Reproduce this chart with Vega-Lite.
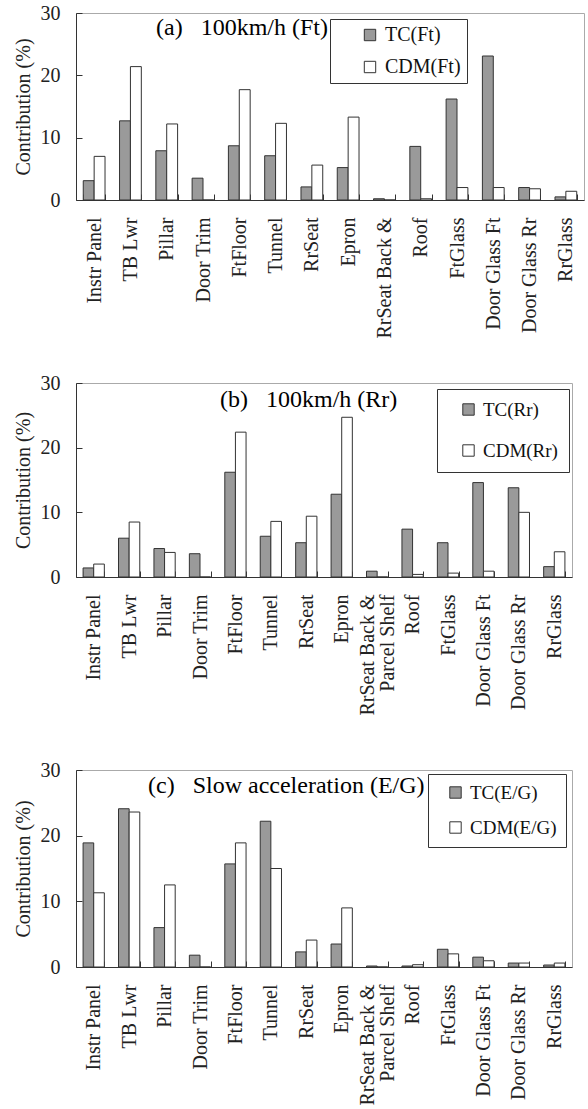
{
  "$schema": "https://vega.github.io/schema/vega-lite/v6.json",
  "padding": {"left": 12, "top": 2, "right": 0, "bottom": 0},
  "background": "white",
  "datasets": {
    "rows": [
      {"p":"a","part":"Instr Panel","s":"TC(Ft)","v":3.1},{"p":"a","part":"Instr Panel","s":"CDM(Ft)","v":7.0},
      {"p":"a","part":"TB Lwr","s":"TC(Ft)","v":12.7},{"p":"a","part":"TB Lwr","s":"CDM(Ft)","v":21.4},
      {"p":"a","part":"Pillar","s":"TC(Ft)","v":7.9},{"p":"a","part":"Pillar","s":"CDM(Ft)","v":12.2},
      {"p":"a","part":"Door Trim","s":"TC(Ft)","v":3.5},{"p":"a","part":"Door Trim","s":"CDM(Ft)","v":0},
      {"p":"a","part":"FtFloor","s":"TC(Ft)","v":8.7},{"p":"a","part":"FtFloor","s":"CDM(Ft)","v":17.7},
      {"p":"a","part":"Tunnel","s":"TC(Ft)","v":7.1},{"p":"a","part":"Tunnel","s":"CDM(Ft)","v":12.3},
      {"p":"a","part":"RrSeat","s":"TC(Ft)","v":2.1},{"p":"a","part":"RrSeat","s":"CDM(Ft)","v":5.6},
      {"p":"a","part":"Epron","s":"TC(Ft)","v":5.2},{"p":"a","part":"Epron","s":"CDM(Ft)","v":13.3},
      {"p":"a","part":"RrSeat Back & Parcel Shelf","s":"TC(Ft)","v":0.2},{"p":"a","part":"RrSeat Back & Parcel Shelf","s":"CDM(Ft)","v":0},
      {"p":"a","part":"Roof","s":"TC(Ft)","v":8.6},{"p":"a","part":"Roof","s":"CDM(Ft)","v":0.2},
      {"p":"a","part":"FtGlass","s":"TC(Ft)","v":16.2},{"p":"a","part":"FtGlass","s":"CDM(Ft)","v":2.0},
      {"p":"a","part":"Door Glass Ft","s":"TC(Ft)","v":23.1},{"p":"a","part":"Door Glass Ft","s":"CDM(Ft)","v":2.0},
      {"p":"a","part":"Door Glass Rr","s":"TC(Ft)","v":2.0},{"p":"a","part":"Door Glass Rr","s":"CDM(Ft)","v":1.8},
      {"p":"a","part":"RrGlass","s":"TC(Ft)","v":0.5},{"p":"a","part":"RrGlass","s":"CDM(Ft)","v":1.4},

      {"p":"b","part":"Instr Panel","s":"TC(Rr)","v":1.4},{"p":"b","part":"Instr Panel","s":"CDM(Rr)","v":2.0},
      {"p":"b","part":"TB Lwr","s":"TC(Rr)","v":6.0},{"p":"b","part":"TB Lwr","s":"CDM(Rr)","v":8.5},
      {"p":"b","part":"Pillar","s":"TC(Rr)","v":4.4},{"p":"b","part":"Pillar","s":"CDM(Rr)","v":3.8},
      {"p":"b","part":"Door Trim","s":"TC(Rr)","v":3.6},{"p":"b","part":"Door Trim","s":"CDM(Rr)","v":0},
      {"p":"b","part":"FtFloor","s":"TC(Rr)","v":16.2},{"p":"b","part":"FtFloor","s":"CDM(Rr)","v":22.4},
      {"p":"b","part":"Tunnel","s":"TC(Rr)","v":6.3},{"p":"b","part":"Tunnel","s":"CDM(Rr)","v":8.6},
      {"p":"b","part":"RrSeat","s":"TC(Rr)","v":5.3},{"p":"b","part":"RrSeat","s":"CDM(Rr)","v":9.4},
      {"p":"b","part":"Epron","s":"TC(Rr)","v":12.8},{"p":"b","part":"Epron","s":"CDM(Rr)","v":24.7},
      {"p":"b","part":"RrSeat Back & Parcel Shelf","s":"TC(Rr)","v":0.9},{"p":"b","part":"RrSeat Back & Parcel Shelf","s":"CDM(Rr)","v":0},
      {"p":"b","part":"Roof","s":"TC(Rr)","v":7.4},{"p":"b","part":"Roof","s":"CDM(Rr)","v":0.4},
      {"p":"b","part":"FtGlass","s":"TC(Rr)","v":5.3},{"p":"b","part":"FtGlass","s":"CDM(Rr)","v":0.6},
      {"p":"b","part":"Door Glass Ft","s":"TC(Rr)","v":14.6},{"p":"b","part":"Door Glass Ft","s":"CDM(Rr)","v":0.9},
      {"p":"b","part":"Door Glass Rr","s":"TC(Rr)","v":13.8},{"p":"b","part":"Door Glass Rr","s":"CDM(Rr)","v":10.0},
      {"p":"b","part":"RrGlass","s":"TC(Rr)","v":1.6},{"p":"b","part":"RrGlass","s":"CDM(Rr)","v":3.9},

      {"p":"c","part":"Instr Panel","s":"TC(E/G)","v":18.9},{"p":"c","part":"Instr Panel","s":"CDM(E/G)","v":11.3},
      {"p":"c","part":"TB Lwr","s":"TC(E/G)","v":24.1},{"p":"c","part":"TB Lwr","s":"CDM(E/G)","v":23.6},
      {"p":"c","part":"Pillar","s":"TC(E/G)","v":6.0},{"p":"c","part":"Pillar","s":"CDM(E/G)","v":12.5},
      {"p":"c","part":"Door Trim","s":"TC(E/G)","v":1.8},{"p":"c","part":"Door Trim","s":"CDM(E/G)","v":0},
      {"p":"c","part":"FtFloor","s":"TC(E/G)","v":15.7},{"p":"c","part":"FtFloor","s":"CDM(E/G)","v":18.9},
      {"p":"c","part":"Tunnel","s":"TC(E/G)","v":22.2},{"p":"c","part":"Tunnel","s":"CDM(E/G)","v":15.0},
      {"p":"c","part":"RrSeat","s":"TC(E/G)","v":2.3},{"p":"c","part":"RrSeat","s":"CDM(E/G)","v":4.1},
      {"p":"c","part":"Epron","s":"TC(E/G)","v":3.5},{"p":"c","part":"Epron","s":"CDM(E/G)","v":9.0},
      {"p":"c","part":"RrSeat Back & Parcel Shelf","s":"TC(E/G)","v":0.15},{"p":"c","part":"RrSeat Back & Parcel Shelf","s":"CDM(E/G)","v":0},
      {"p":"c","part":"Roof","s":"TC(E/G)","v":0.15},{"p":"c","part":"Roof","s":"CDM(E/G)","v":0.35},
      {"p":"c","part":"FtGlass","s":"TC(E/G)","v":2.7},{"p":"c","part":"FtGlass","s":"CDM(E/G)","v":2.0},
      {"p":"c","part":"Door Glass Ft","s":"TC(E/G)","v":1.5},{"p":"c","part":"Door Glass Ft","s":"CDM(E/G)","v":0.95},
      {"p":"c","part":"Door Glass Rr","s":"TC(E/G)","v":0.6},{"p":"c","part":"Door Glass Rr","s":"CDM(E/G)","v":0.6},
      {"p":"c","part":"RrGlass","s":"TC(E/G)","v":0.3},{"p":"c","part":"RrGlass","s":"CDM(E/G)","v":0.6}
    ]
  },
  "data": {"name": "rows"},
  "spacing": 33,
  "resolve": {"scale": {"fill": "independent", "xOffset": "independent", "x": "independent", "y": "independent"}, "legend": {"fill": "independent"}},
  "vconcat": [
    {
      "width": 508, "height": 187,
      "title": {"text": "(a)\u00a0\u00a0\u00a0100km/h (Ft)", "dx": 80, "dy": 41},
      "transform": [{"filter": "datum.p == 'a'"}],
      "mark": {"type": "bar", "stroke": "#333", "strokeWidth": 1},
      "encoding": {
        "x": {"field": "part", "type": "nominal", "sort": null, "scale": {"paddingInner": 0.4, "paddingOuter": 0.2},
              "axis": {"labelExpr": "datum.label == 'RrSeat Back & Parcel Shelf' ? 'RrSeat Back &\u00a0' : datum.label"}},
        "xOffset": {"field": "s", "type": "nominal", "scale": {"domain": ["TC(Ft)", "CDM(Ft)"]}},
        "y": {"field": "v", "type": "quantitative", "scale": {"domain": [0, 30]}, "axis": {"values": [0, 10, 20, 30], "title": "Contribution (%)"}},
        "fill": {"field": "s", "type": "nominal", "scale": {"domain": ["TC(Ft)", "CDM(Ft)"], "range": ["#9a9a9a", "#ffffff"]},
                 "legend": {"legendX": 254, "legendY": 6, "padding": 6, "rowPadding": 12, "symbolOffset": 24, "labelFontSize": 20,
                            "labelExpr": "datum.label + '\u00a0\u00a0\u00a0\u00a0\u00a0\u00a0'"}}
      }
    },
    {
      "width": 496, "height": 194,
      "title": {"text": "(b)\u00a0\u00a0\u00a0100km/h (Rr)", "dx": 144, "dy": 43},
      "transform": [{"filter": "datum.p == 'b'"}],
      "mark": {"type": "bar", "stroke": "#333", "strokeWidth": 1},
      "encoding": {
        "x": {"field": "part", "type": "nominal", "sort": null, "scale": {"paddingInner": 0.4, "paddingOuter": 0.2},
              "axis": {"labelExpr": "datum.label == 'RrSeat Back & Parcel Shelf' ? ['RrSeat Back &\u00a0', 'Parcel Shelf\u00a0\u00a0\u00a0'] : datum.label",
                       "labelOffset": {"condition": {"test": "datum.label == 'RrSeat Back & Parcel Shelf'", "value": -10}, "value": 0},
                       "title": " ", "titleFontSize": 1, "titlePadding": 9}},
        "xOffset": {"field": "s", "type": "nominal", "scale": {"domain": ["TC(Rr)", "CDM(Rr)"]}},
        "y": {"field": "v", "type": "quantitative", "scale": {"domain": [0, 30]}, "axis": {"values": [0, 10, 20, 30], "title": "Contribution (%)"}},
        "fill": {"field": "s", "type": "nominal", "scale": {"domain": ["TC(Rr)", "CDM(Rr)"], "range": ["#9a9a9a", "#ffffff"]},
                 "legend": {"legendX": 361, "legendY": 6, "padding": 11, "rowPadding": 21, "symbolOffset": 11, "labelFontSize": 19,
                            "labelExpr": "datum.label + '\u00a0\u00a0\u00a0'"}}
      }
    },
    {
      "width": 496, "height": 197,
      "title": {"text": "(c)\u00a0\u00a0\u00a0Slow acceleration (E/G)", "dx": 72, "dy": 42},
      "transform": [{"filter": "datum.p == 'c'"}],
      "mark": {"type": "bar", "stroke": "#333", "strokeWidth": 1},
      "encoding": {
        "x": {"field": "part", "type": "nominal", "sort": null, "scale": {"paddingInner": 0.4, "paddingOuter": 0.2},
              "axis": {"labelExpr": "datum.label == 'RrSeat Back & Parcel Shelf' ? ['RrSeat Back &\u00a0', 'Parcel Shelf\u00a0\u00a0\u00a0'] : datum.label",
                       "labelOffset": {"condition": {"test": "datum.label == 'RrSeat Back & Parcel Shelf'", "value": -10}, "value": 0}}},
        "xOffset": {"field": "s", "type": "nominal", "scale": {"domain": ["TC(E/G)", "CDM(E/G)"]}},
        "y": {"field": "v", "type": "quantitative", "scale": {"domain": [0, 30]}, "axis": {"values": [0, 10, 20, 30], "title": "Contribution (%)"}},
        "fill": {"field": "s", "type": "nominal", "scale": {"domain": ["TC(E/G)", "CDM(E/G)"], "range": ["#9a9a9a", "#ffffff"]},
                 "legend": {"legendX": 352, "legendY": 4, "padding": 9, "rowPadding": 15, "symbolOffset": 9, "labelFontSize": 19}}
      }
    }
  ],
  "config": {
    "font": "Liberation Serif",
    "view": {"stroke": "#aaaaaa", "strokeWidth": 1},
    "title": {"anchor": "start", "frame": "group", "offset": 0, "fontSize": 24, "fontWeight": "normal", "color": "#000", "font": "Liberation Serif"},
    "axis": {"labelFont": "Liberation Serif", "labelFontSize": 20, "labelColor": "#222", "titleFont": "Liberation Serif", "titleFontSize": 20,
             "titleFontWeight": "normal", "titleColor": "#222", "domainColor": "#333", "tickColor": "#333", "grid": false},
    "axisX": {"labelAngle": -90, "tickBand": "extent", "tickSize": -6, "labelPadding": 23, "title": null, "labelLineHeight": 20},
    "axisY": {"tickSize": -6, "labelPadding": 22, "titlePadding": 7},
    "legend": {"orient": "none", "title": null, "strokeColor": "#333", "fillColor": "#fff", "symbolType": "square", "symbolSize": 130,
               "symbolStrokeColor": "#333", "symbolStrokeWidth": 1, "labelFont": "Liberation Serif", "labelColor": "#111", "labelOffset": 5}
  }
}
